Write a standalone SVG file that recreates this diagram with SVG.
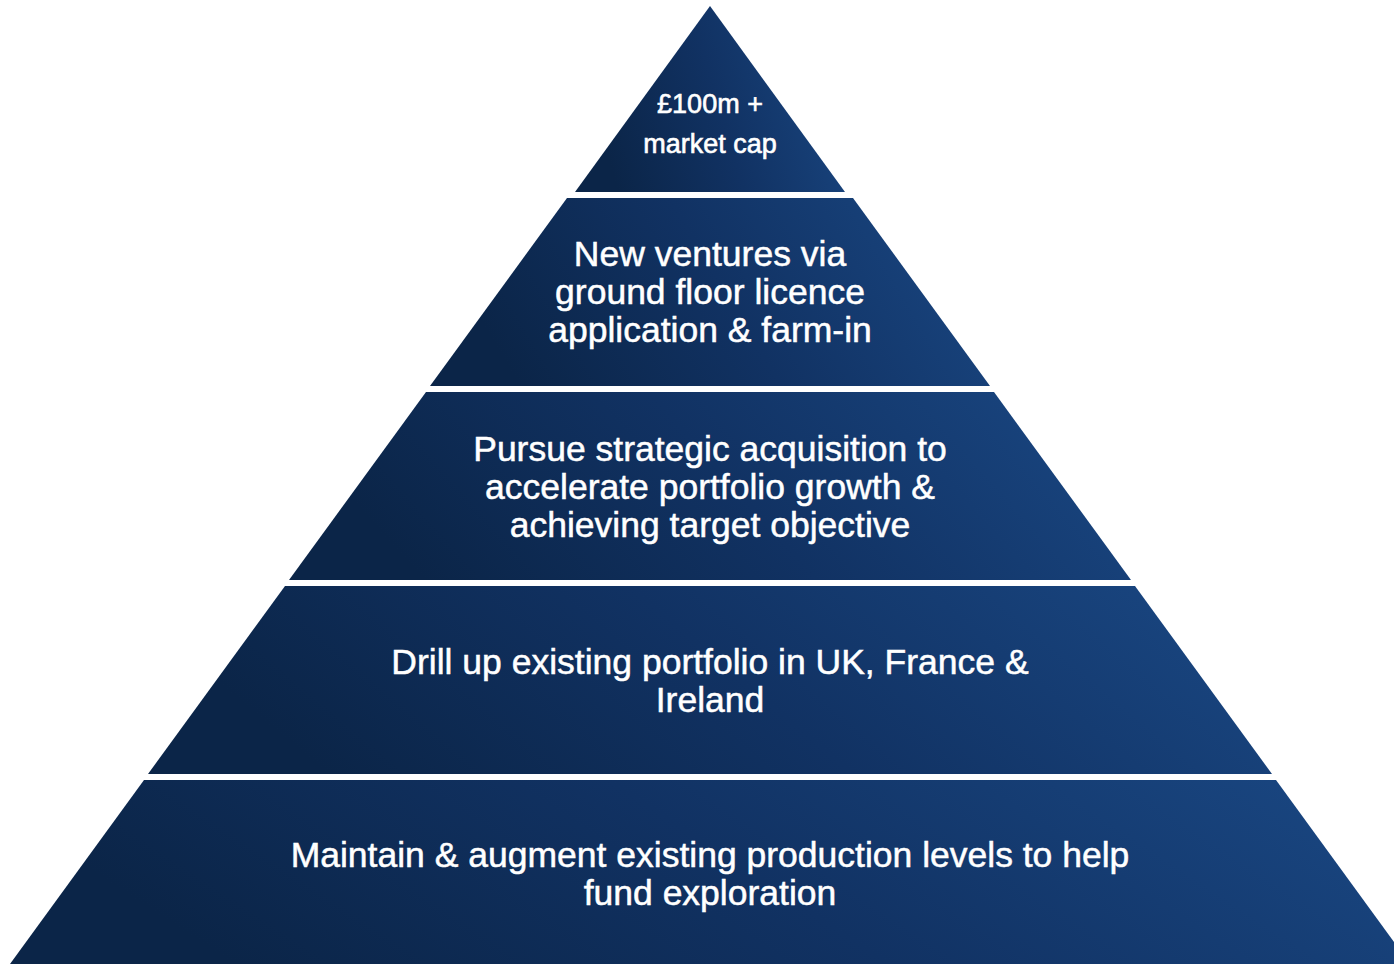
<svg xmlns="http://www.w3.org/2000/svg" width="1394" height="964" viewBox="0 0 1394 964">
  <defs>
    <linearGradient id="tierFill" x1="0" y1="0.2" x2="1" y2="0">
      <stop offset="0" stop-color="#0b2548"/>
      <stop offset="0.45" stop-color="#113263"/>
      <stop offset="1" stop-color="#1a4884"/>
    </linearGradient>
    <style>
      .tier { fill: url(#tierFill); }
      .label { fill: #ffffff; stroke: #ffffff; stroke-width: 0.5px; font-family: "Liberation Sans", Arial, sans-serif; font-size: 35.5px; text-anchor: middle; }
      .small { font-size: 27px; stroke-width: 0.6px; }
    </style>
  </defs>
  <rect width="1394" height="964" fill="#ffffff"/>

  <!-- apex tier -->
  <g id="tier-1">
    <polygon class="tier" points="710,6 845,192 575,192"/>
    <text class="label small" x="710" y="113">£100m +</text>
    <text class="label small" x="710" y="153">market cap</text>
  </g>

  <g id="tier-2">
    <polygon class="tier" points="567,198 853,198 990,386 430,386"/>
    <text class="label" x="710" y="266">New ventures via</text>
    <text class="label" x="710" y="304">ground floor licence</text>
    <text class="label" x="710" y="342">application &amp; farm-in</text>
  </g>

  <g id="tier-3">
    <polygon class="tier" points="426,392 994,392 1131,580 289,580"/>
    <text class="label" x="710" y="461">Pursue strategic acquisition to</text>
    <text class="label" x="710" y="499">accelerate portfolio growth &amp;</text>
    <text class="label" x="710" y="537">achieving target objective</text>
  </g>

  <g id="tier-4">
    <polygon class="tier" points="285,586 1135,586 1272,774 148,774"/>
    <text class="label" x="710" y="674">Drill up existing portfolio in UK, France &amp;</text>
    <text class="label" x="710" y="712">Ireland</text>
  </g>

  <g id="tier-5">
    <polygon class="tier" points="144,780 1276,780 1410,964 10,964"/>
    <text class="label" x="710" y="867">Maintain &amp; augment existing production levels to help</text>
    <text class="label" x="710" y="905">fund exploration</text>
  </g>
</svg>
